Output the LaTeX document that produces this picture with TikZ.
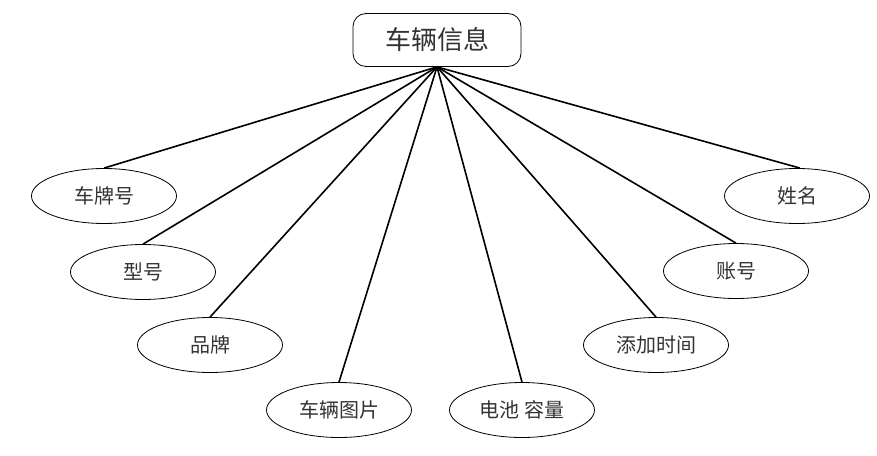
\documentclass[tikz,border=0pt]{standalone}
\usepackage{fontspec}
\newfontfamily\cjk{Noto Sans CJK SC}
\usetikzlibrary{shapes.geometric}
\begin{document}
\begin{tikzpicture}[x=1pt,y=-1pt,
  attr/.style={ellipse,draw,line width=0.8pt,minimum width=145pt,minimum height=55pt,inner sep=0pt,font=\cjk\fontsize{20}{20}\selectfont,text=black!80},
  entity/.style={rectangle,rounded corners=13pt,draw,line width=0.8pt,minimum width=168pt,minimum height=53pt,inner sep=0pt,font=\cjk\fontsize{26}{26}\selectfont,text=black!80},
  link/.style={line width=1.6pt}]
\useasboundingbox (0,0) rectangle (877,455);
\node[entity] (car) at (437,40) {车辆信息};
\node[attr] (a1) at (104,196) {车牌号};
\node[attr] (a2) at (143,272) {型号};
\node[attr] (a3) at (210,345) {品牌};
\node[attr] (a4) at (339,410) {车辆图片};
\node[attr] (a5) at (522,410) {电池 容量};
\node[attr] (a6) at (656,345) {添加时间};
\node[attr] (a7) at (736,271) {账号};
\node[attr] (a8) at (797,196) {姓名};
\coordinate (hub) at (car.south);
\foreach \n in {a1,a2,a3,a4,a5,a6,a7} \draw[link] (hub) -- (\n.north);
\draw[link] (hub) -- ([xshift=3pt]a8.north);
\end{tikzpicture}
\end{document}
